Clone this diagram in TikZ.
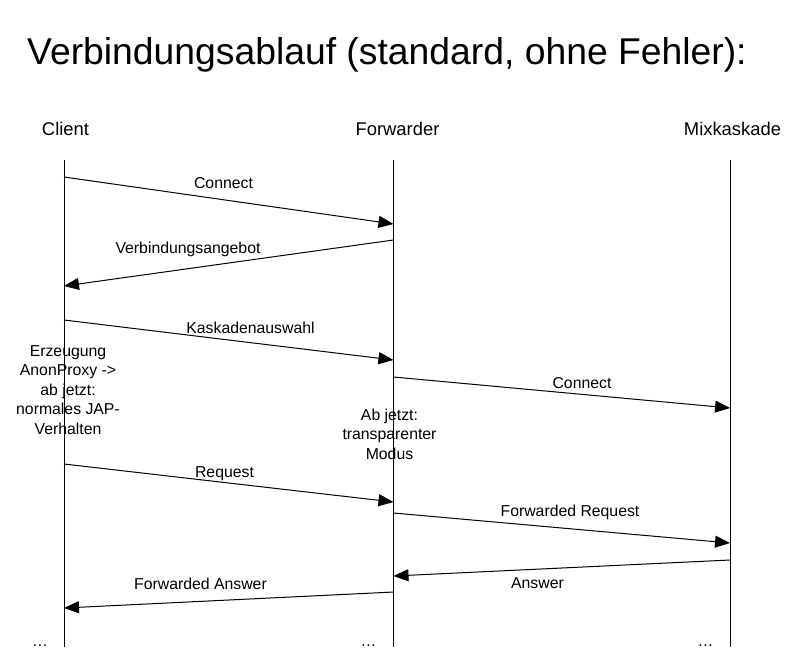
\documentclass[tikz,border=0pt]{standalone}
\usepackage{fontspec}
\setmainfont{Liberation Sans}
\usetikzlibrary{arrows.meta}

\begin{document}
\begin{tikzpicture}[x=1pt,y=-1pt,
		kopf/.style={inner sep=0pt,anchor=base,font=\fontsize{18.4}{22}\selectfont},
		lbl/.style={inner sep=0pt,anchor=base,font=\fontsize{15.8}{19.5}\selectfont},
		notiz/.style={lbl,align=center},
		leben/.style={line width=1pt},
		msg/.style={line width=1pt,-{Triangle[length=15pt,width=12pt]}}]
				% Rahmen: 808 x 654
				\useasboundingbox (0,0) rectangle (808,654);
				\node[inner sep=0pt,anchor=base west,font=\fontsize{37.3}{44}\selectfont] (titel) at (27,64) {Verbindungsablauf (standard, ohne Fehler):};
				\node[kopf] (client) at (65.5,135) {Client};
				\node[kopf] (fwd) at (397.5,135) {Forwarder};
				\node[kopf] (mix) at (732.5,135) {Mixkaskade};
				% Lebenslinien
				\coordinate (c0) at (64,160);   \coordinate (c9) at (64,647);
				\coordinate (f0) at (393.5,160); \coordinate (f9) at (393.5,647);
				\coordinate (m0) at (730,160);  \coordinate (m9) at (730,647);
				\draw[leben] (c0) -- (c9);
				\draw[leben] (f0) -- (f9);
				\draw[leben] (m0) -- (m9);
				% Nachrichten
				\coordinate (c1) at (64,177);  \coordinate (f1) at (393.5,224);
				\coordinate (f2) at (393.5,240); \coordinate (c2) at (64,286);
				\coordinate (c3) at (64,320);  \coordinate (f3) at (393.5,360);
				\coordinate (f4) at (393.5,377); \coordinate (m4) at (730,408);
				\coordinate (c5) at (64,464);  \coordinate (f5) at (393.5,502);
				\coordinate (f6) at (393.5,513); \coordinate (m6) at (730,543);
				\coordinate (m7) at (730,560);  \coordinate (f7) at (393.5,576);
				\coordinate (f8) at (393.5,592); \coordinate (c8) at (64,608);
				\draw[msg] (c1) -- (f1);
				\draw[msg] (f2) -- (c2);
				\draw[msg] (c3) -- (f3);
				\draw[msg] (f4) -- (m4);
				\draw[msg] (c5) -- (f5);
				\draw[msg] (f6) -- (m6);
				\draw[msg] (m7) -- (f7);
				\draw[msg] (f8) -- (c8);
				\node[lbl] (l1) at (223.5,188) {Connect};
				\node[lbl] (l2) at (188,253) {Verbindungsangebot};
				\node[lbl] (l3) at (250.5,333) {Kaskadenauswahl};
				\node[lbl] (l4) at (582,388) {Connect};
				\node[lbl] (l5) at (224.5,477) {Request};
				\node[lbl] (l6) at (570,516) {Forwarded Request};
				\node[lbl] (l7) at (537.5,588) {Answer};
				\node[lbl] (l8) at (200.5,589) {Forwarded Answer};
				% Hinweise (base = letzte Zeile)
				\node[notiz] (n1) at (68,434) {Erzeugung\\AnonProxy ->\\ab jetzt:\\normales JAP-\\Verhalten};
				\node[notiz] (n2) at (389.5,459) {Ab jetzt:\\transparenter\\Modus};
				\node[lbl] (p1) at (40,646) {…};
				\node[lbl] (p2) at (368.5,646) {…};
				\node[lbl] (p3) at (705.5,646) {…};
			\end{tikzpicture}
\end{document}
